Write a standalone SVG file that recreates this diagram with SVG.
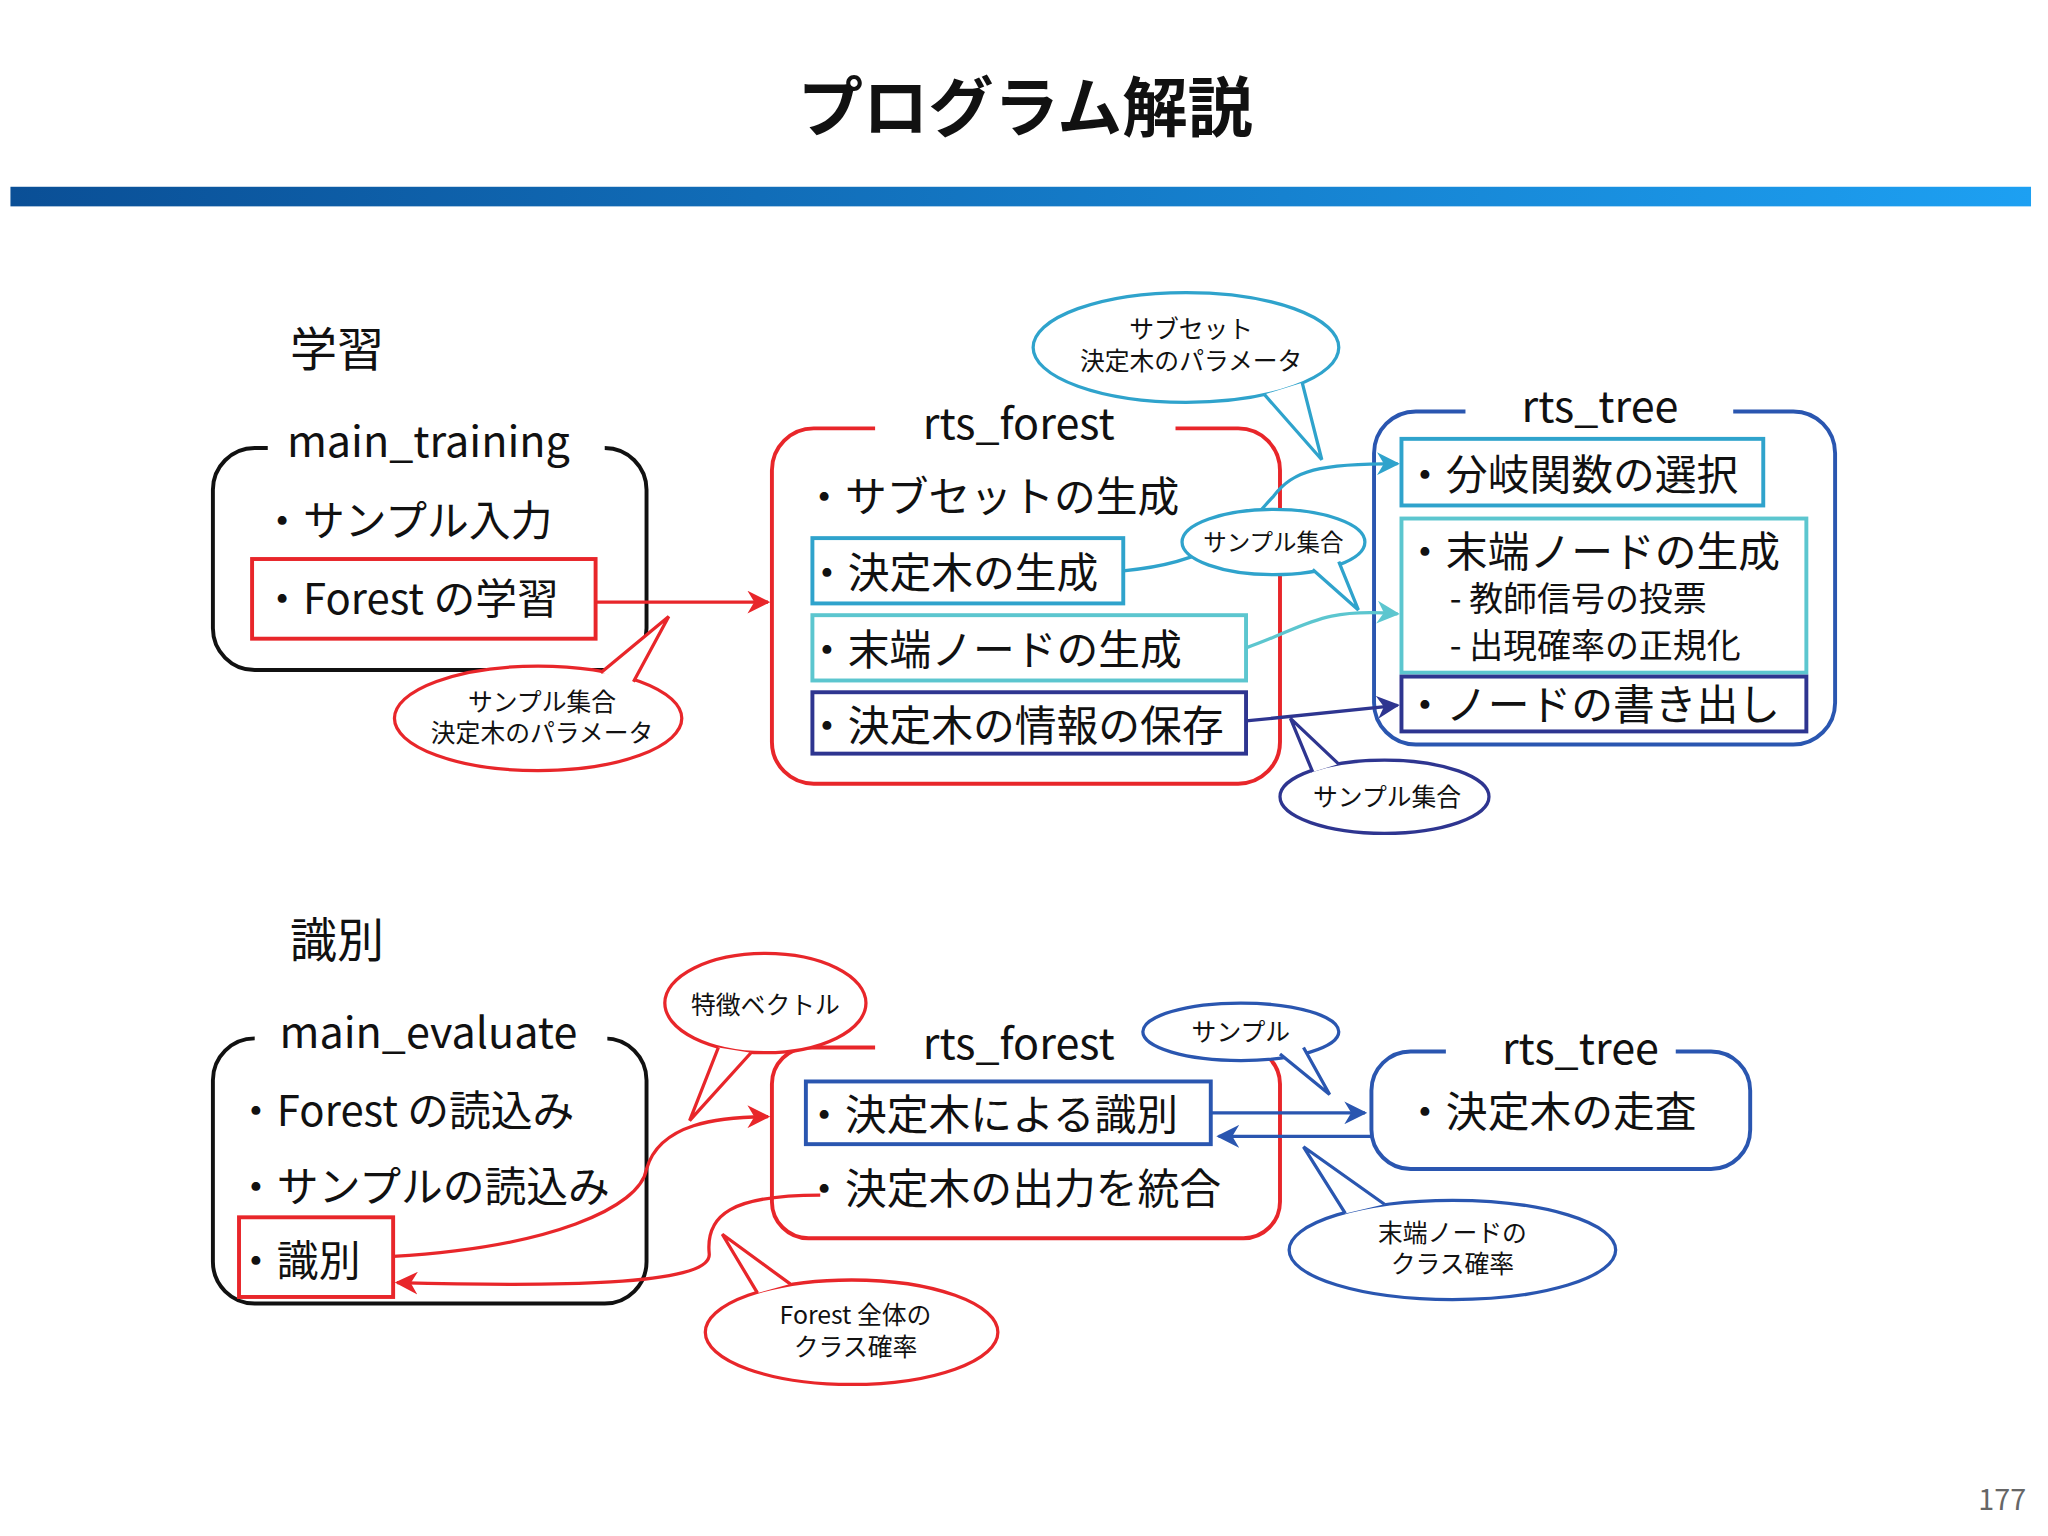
<svg xmlns="http://www.w3.org/2000/svg" width="2048" height="1536" viewBox="0 0 2048 1536">
<defs>
<linearGradient id="bar" x1="0" x2="1"><stop offset="0" stop-color="#0a4f96"/><stop offset="1" stop-color="#1da0f2"/></linearGradient>
<marker id="ar" viewBox="0 0 10 10" refX="9" refY="5" markerWidth="7" markerHeight="7" orient="auto"><path d="M0,0L10,5L0,10L3,5z" fill="#e8262a"/></marker>
<marker id="ac" viewBox="0 0 10 10" refX="9" refY="5" markerWidth="7" markerHeight="7" orient="auto"><path d="M0,0L10,5L0,10L3,5z" fill="#2fa3cc"/></marker>
<marker id="at" viewBox="0 0 10 10" refX="9" refY="5" markerWidth="7" markerHeight="7" orient="auto"><path d="M0,0L10,5L0,10L3,5z" fill="#5cc6cf"/></marker>
<marker id="an" viewBox="0 0 10 10" refX="9" refY="5" markerWidth="7" markerHeight="7" orient="auto"><path d="M0,0L10,5L0,10L3,5z" fill="#2e3590"/></marker>
<marker id="ab" viewBox="0 0 10 10" refX="9" refY="5" markerWidth="7" markerHeight="7" orient="auto"><path d="M0,0L10,5L0,10L3,5z" fill="#2a56b0"/></marker>
</defs>
<style>
text{font-family:"Noto Sans CJK JP","Noto Sans",sans-serif;fill:#111}
.it{font-size:32px}.tt{font-size:33px;text-anchor:middle}.sm{font-size:19px;text-anchor:middle}
.r{stroke:#e8262a}.c{stroke:#2fa3cc}.t{stroke:#5cc6cf}.n{stroke:#2e3590}.b{stroke:#2a56b0}.k{stroke:#111}
.box{fill:none;stroke-width:3}.frm{fill:none;stroke-width:3}
.cl{fill:#fff;stroke-width:2.5}.ln{fill:none;stroke-width:2.5}
</style>
<rect width="2048" height="1536" fill="#fff"/>
<g transform="scale(1.30612)">
<text x="785" y="100" style="font-size:50px;font-weight:bold;text-anchor:middle">プログラム解説</text>
<rect x="8" y="143" width="1547" height="15" fill="url(#bar)"/>
<text x="1533" y="1156" style="font-size:22px;fill:#666;text-anchor:middle">177</text>

<text x="222" y="280" style="font-size:36px">学習</text>
<g id="main_training">
<rect class="frm k" x="163" y="343" width="332" height="170" rx="32"/>
<rect x="205" y="325" width="258" height="36" fill="#fff"/>
<text class="tt" x="328" y="350">main_training</text>
<text class="it" x="200" y="410">・サンプル入力</text>
<rect class="box r" x="193" y="428" width="263" height="61"/>
<text class="it" x="200" y="470">・Forest の学習</text>
</g>
<g id="rts_forest1">
<rect class="frm r" x="591" y="328" width="389" height="272" rx="32"/>
<rect x="670" y="310" width="230" height="36" fill="#fff"/>
<text class="tt" x="780" y="336">rts_forest</text>
<text class="it" x="615" y="392">・サブセットの生成</text>
<rect class="box c" x="622" y="412" width="238" height="50"/>
<text class="it" x="617" y="450">・決定木の生成</text>
<rect class="box t" x="622" y="471" width="332" height="50"/>
<text class="it" x="617" y="509">・末端ノードの生成</text>
<rect class="box n" x="622" y="530" width="332" height="47"/>
<text class="it" x="617" y="567">・決定木の情報の保存</text>
</g>
<g id="rts_tree1">
<rect class="frm b" x="1052" y="315" width="353" height="255" rx="32"/>
<rect x="1122" y="298" width="205" height="36" fill="#fff"/>
<text class="tt" x="1225" y="323">rts_tree</text>
<rect class="box c" x="1073" y="336" width="277" height="51"/>
<text class="it" x="1075" y="375">・分岐関数の選択</text>
<rect class="box t" x="1073" y="397" width="310" height="118"/>
<text class="it" x="1075" y="434">・末端ノードの生成</text>
<text x="1110" y="468" style="font-size:26px">- 教師信号の投票</text>
<text x="1110" y="504" style="font-size:26px">- 出現確率の正規化</text>
<rect class="box n" x="1073" y="518" width="310" height="42"/>
<text class="it" x="1075" y="551">・ノードの書き出し</text>
</g>

<text x="222" y="733" style="font-size:36px">識別</text>
<g id="main_evaluate">
<rect class="frm k" x="163" y="795" width="332" height="203" rx="32"/>
<rect x="195" y="775" width="270" height="36" fill="#fff"/>
<text class="tt" x="328" y="802">main_evaluate</text>
<text class="it" x="180" y="862">・Forest の読込み</text>
<text class="it" x="180" y="920">・サンプルの読込み</text>
<rect class="box r" x="183" y="932" width="118" height="61"/>
<text class="it" x="180" y="977">・識別</text>
</g>
<g id="rts_forest2">
<rect class="frm r" x="591" y="802" width="389" height="146" rx="28"/>
<rect x="670" y="785" width="230" height="36" fill="#fff"/>
<text class="tt" x="780" y="811">rts_forest</text>
<rect class="box b" x="617" y="828" width="310" height="48"/>
<text class="it" x="615" y="865">・決定木による識別</text>
<text class="it" x="615" y="922">・決定木の出力を統合</text>
</g>
<g id="rts_tree2">
<rect class="frm b" x="1050" y="805" width="290" height="90" rx="30"/>
<rect x="1107" y="788" width="176" height="36" fill="#fff"/>
<text class="tt" x="1210" y="815">rts_tree</text>
<text class="it" x="1075" y="863">・決定木の走査</text>
</g>

<g id="connectors">
<path class="ln r" d="M456,461H588" marker-end="url(#ar)"/>
<path class="ln c" d="M860,437C940,430 960,395 975,380C990,360 1010,355 1070,355" marker-end="url(#ac)"/>
<path class="ln t" d="M954,496C1000,480 1010,465 1070,470" marker-end="url(#at)"/>
<path class="ln n" d="M954,552L1070,540" marker-end="url(#an)"/>
<path class="ln b" d="M927,852H1045" marker-end="url(#ab)"/>
<path class="ln b" d="M1050,870H933" marker-end="url(#ab)"/>
<path class="ln r" d="M301,962C420,955 490,925 495,895C505,860 550,855 588,855" marker-end="url(#ar)"/>
<path class="ln r" d="M628,915C560,915 540,930 543,960C545,985 420,985 304,982" marker-end="url(#ar)"/>
</g>

<g id="callouts">
<ellipse class="cl r" cx="412" cy="550" rx="110" ry="40"/>
<path class="cl r" d="M460,515L512,472L485,522"/>
<text class="sm" x="415" y="544">サンプル集合</text><text class="sm" x="415" y="568">決定木のパラメータ</text>

<ellipse class="cl c" cx="908" cy="266" rx="117" ry="42"/>
<path class="cl c" d="M968,302L1012,352L997,293"/>
<text class="sm" x="912" y="259">サブセット</text><text class="sm" x="912" y="283">決定木のパラメータ</text>

<ellipse class="cl c" cx="975" cy="415" rx="70" ry="25"/>
<path class="cl c" d="M1005,436L1040,467L1025,430"/>
<text class="sm" x="975" y="422" style="font-size:18px">サンプル集合</text>

<ellipse class="cl n" cx="1060" cy="610" rx="80" ry="28"/>
<path class="cl n" d="M1005,591L988,550L1025,585"/>
<text class="sm" x="1062" y="617">サンプル集合</text>

<ellipse class="cl r" cx="586" cy="768" rx="77" ry="38"/>
<path class="cl r" d="M550,802L528,858L575,806"/>
<text class="sm" x="586" y="776">特徴ベクトル</text>

<ellipse class="cl r" cx="652" cy="1020" rx="112" ry="40"/>
<path class="cl r" d="M580,990L553,945L605,983"/>
<text class="sm" x="655" y="1014">Forest 全体の</text><text class="sm" x="655" y="1038">クラス確率</text>

<ellipse class="cl b" cx="950" cy="790" rx="75" ry="22"/>
<path class="cl b" d="M980,807L1018,838L998,802"/>
<text class="sm" x="950" y="797">サンプル</text>

<ellipse class="cl b" cx="1112" cy="957" rx="125" ry="38"/>
<path class="cl b" d="M1030,929L998,878L1060,922"/>
<text class="sm" x="1112" y="951">末端ノードの</text><text class="sm" x="1112" y="975">クラス確率</text>
</g>
</g>
</svg>
